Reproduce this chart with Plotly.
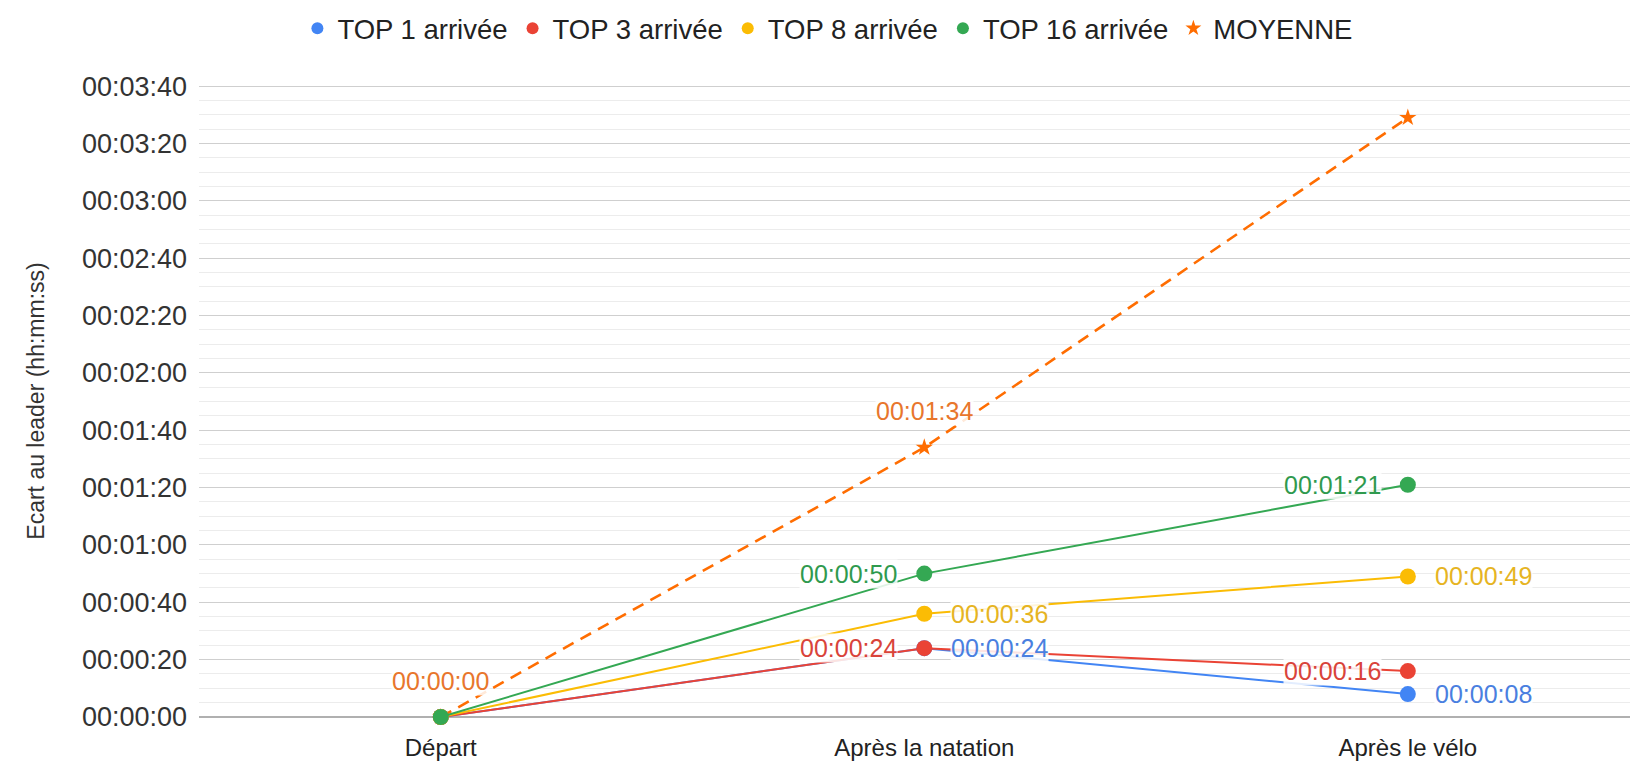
import plotly.graph_objects as go

# categories on the x axis
stages = ["Départ", "Après la natation", "Après le vélo"]

# gap to the leader, in seconds
top1 = [0, 24, 8]
top3 = [0, 24, 16]
top8 = [0, 36, 49]
top16 = [0, 50, 81]
moyenne = [0, 94, 209]

series_names = ["TOP 1 arrivée", "TOP 3 arrivée", "TOP 8 arrivée", "TOP 16 arrivée", "MOYENNE"]

# y ticks (seconds) and their labels
tick_seconds = [0, 20, 40, 60, 80, 100, 120, 140, 160, 180, 200, 220]
tick_labels = ["00:00:00", "00:00:20", "00:00:40", "00:01:00", "00:01:20", "00:01:40",
               "00:02:00", "00:02:20", "00:02:40", "00:03:00", "00:03:20", "00:03:40"]

FONT = "Arial, Liberation Sans, sans-serif"


def hms(sec):
    return "%02d:%02d:%02d" % (sec // 3600, (sec % 3600) // 60, sec % 60)


# style per series: color, marker symbol, label side, which points get a label
styles = [
    dict(color="#4285F4", symbol="circle", side="right", shown=[1, 2]),
    dict(color="#EA4335", symbol="circle", side="left", shown=[1, 2]),
    dict(color="#FBBC04", symbol="circle", side="right", shown=[1, 2]),
    dict(color="#34A853", symbol="circle", side="left", shown=[1, 2]),
    dict(color="#FF6D01", symbol="star", side="top", shown=[0, 1]),
]
label_colors = ["#4a7fe0", "#d9433a", "#e6b422", "#2f9a4e", "#e8762c"]
all_values = [top1, top3, top8, top16, moyenne]

fig = go.Figure()
annotations = []

# average drawn first so the circles sit on top of it
order = [4, 0, 1, 2, 3]
for k in order:
    name, vals, st, lc = series_names[k], all_values[k], styles[k], label_colors[k]
    is_avg = st["symbol"] == "star"
    fig.add_trace(go.Scatter(
        x=stages, y=vals, mode="lines+markers", name=name, showlegend=False,
        line=dict(color=st["color"], width=2.6 if is_avg else 2,
                  dash="12px,8px" if is_avg else "solid"),
        marker=dict(symbol=st["symbol"], size=13 if is_avg else 16, color=st["color"],
                    line=dict(width=0)),
        cliponaxis=False,
    ))
    for i, (cat, v) in enumerate(zip(stages, vals)):
        if i not in st["shown"]:
            continue
        a = dict(x=cat, y=v, text=hms(v), showarrow=False, bgcolor="rgba(255,255,255,0.85)",
                 font=dict(family=FONT, size=25, color=lc), borderpad=0)
        if st["side"] == "right":
            a.update(xanchor="left", yanchor="middle", xshift=26)
        elif st["side"] == "left":
            a.update(xanchor="right", yanchor="middle", xshift=-26)
        else:
            a.update(xanchor="center", yanchor="middle", yshift=36)
        annotations.append(a)

# legend entries: symbol only
for name, st in zip(series_names, styles):
    fig.add_trace(go.Scatter(
        x=[None], y=[None], mode="markers", name=name,
        marker=dict(symbol=st["symbol"], size=13 if st["symbol"] == "star" else 14,
                    color=st["color"]),
    ))

# the page body adds an 8px offset, so the figure is 8px smaller each way
fig.update_layout(
    width=1630, height=753,
    paper_bgcolor="white", plot_bgcolor="white",
    margin=dict(l=191, r=0, t=77, b=44, autoexpand=False),
    font=dict(family=FONT, size=24, color="#222"),
    showlegend=True,
    legend=dict(orientation="h", xref="container", yref="container",
                x=0.503, xanchor="center", y=0.973, yanchor="middle",
                font=dict(size=27.5, color="#222"), itemsizing="constant",
                tracegroupgap=0),
    annotations=annotations,
    xaxis=dict(range=[-0.5, 2.476], showgrid=False, zeroline=False, showline=False,
               automargin=False, ticks="", tickfont=dict(size=24, color="#222"),
               ticklabelstandoff=14),
    yaxis=dict(range=[0, 220.4], tickvals=tick_seconds, ticktext=tick_labels,
               automargin=False,
               showgrid=True, gridcolor="#cfcfcf", gridwidth=1,
               minor=dict(dtick=5, showgrid=True, gridcolor="#ececec", gridwidth=1),
               zeroline=True, zerolinecolor="#b0b0b0", zerolinewidth=1.5,
               ticks="", tickfont=dict(size=27, color="#333"), ticklabelstandoff=11,
               title=dict(text="Ecart au leader (hh:mm:ss)", standoff=30,
                          font=dict(size=23, color="#333"))),
)

fig.write_html("out.html")
